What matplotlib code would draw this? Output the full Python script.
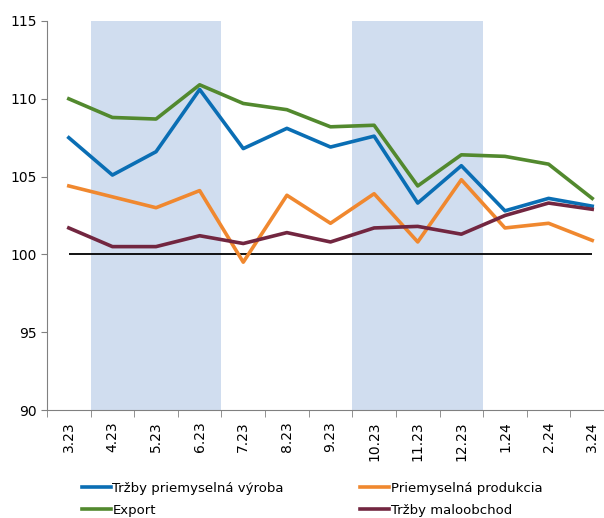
import numpy as np
import matplotlib
matplotlib.use("Agg")
import matplotlib.pyplot as plt

# data
months = ["3.23", "4.23", "5.23", "6.23", "7.23", "8.23", "9.23",
          "10.23", "11.23", "12.23", "1.24", "2.24", "3.24"]
trzby_vyroba = [107.5, 105.1, 106.6, 110.6, 106.8, 108.1, 106.9,
                107.6, 103.3, 105.7, 102.8, 103.6, 103.1]
produkcia = [104.4, 103.7, 103.0, 104.1, 99.5, 103.8, 102.0,
             103.9, 100.8, 104.8, 101.7, 102.0, 100.9]
export = [110.0, 108.8, 108.7, 110.9, 109.7, 109.3, 108.2,
          108.3, 104.4, 106.4, 106.3, 105.8, 103.6]
maloobchod = [101.7, 100.5, 100.5, 101.2, 100.7, 101.4, 100.8,
              101.7, 101.8, 101.3, 102.5, 103.3, 102.9]
shaded = [(1, 3), (7, 9)]  # category index ranges

x = np.arange(len(months))

fig = plt.figure(figsize=(6.04, 5.18), dpi=100)
ax = fig.add_axes([47/604, 1-410/518, 567/604, 389/518])

for a, b in shaded:
    ax.axvspan(a - 0.5, b + 0.5, color="#d0ddef", lw=0, zorder=0)

ax.hlines(100, 0, len(months) - 1, color="black", lw=1.3, zorder=1)

l1, = ax.plot(x, trzby_vyroba, color="#0a6eb4", lw=2.6, label="Tržby priemyselná výroba")
l2, = ax.plot(x, produkcia, color="#f0882f", lw=2.6, label="Priemyselná produkcia")
l3, = ax.plot(x, export, color="#52892e", lw=2.6, label="Export")
l4, = ax.plot(x, maloobchod, color="#722640", lw=2.6, label="Tržby maloobchod")

ax.set_xlim(-0.5, len(months) - 0.5)
ax.set_ylim(90, 115)
ax.set_yticks([90, 95, 100, 105, 110, 115])
ax.set_xticks(x)
ax.set_xticklabels(months, rotation=90)
ax.set_xticks(np.arange(len(months) + 1) - 0.5, minor=True)
ax.tick_params(axis="x", which="major", length=0, pad=8, labelsize=10)
ax.tick_params(axis="x", which="minor", length=5, color="#808080")
ax.tick_params(axis="y", length=4, color="#808080", labelsize=10)

for s in ["top", "right"]:
    ax.spines[s].set_visible(False)
for s in ["left", "bottom"]:
    ax.spines[s].set_color("#808080")

fig.legend(handles=[l1, l3, l2, l4], ncol=2, frameon=False, fontsize=9.5,
           loc="upper left", bbox_to_anchor=(82/604, 1-482/518),
           handlelength=2.2, handletextpad=0.1, columnspacing=5.8,
           labelspacing=0.65, borderaxespad=0, borderpad=0)

fig.savefig("out.png", dpi=100)
